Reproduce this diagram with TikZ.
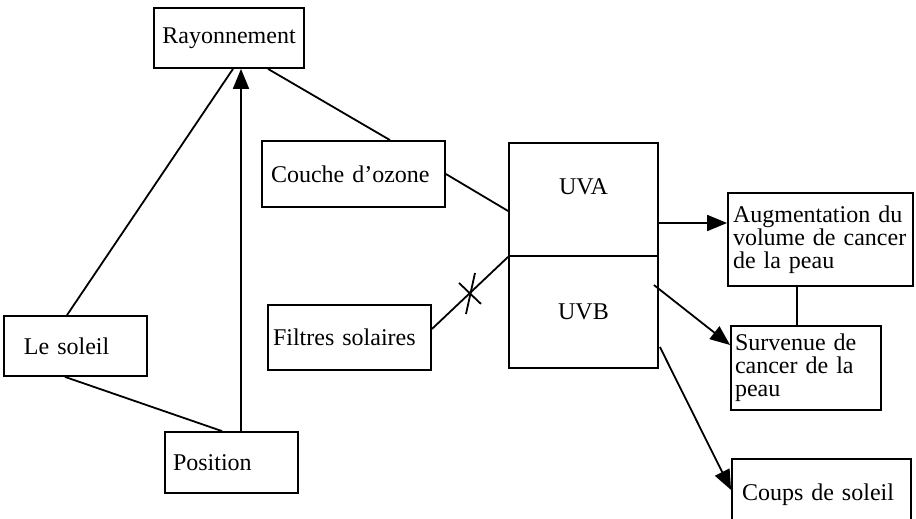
\documentclass[tikz,border=0pt]{standalone}
\usepackage{fontspec}
\setmainfont{Liberation Serif}
\usetikzlibrary{arrows.meta}

\begin{document}
\begin{tikzpicture}[x=0.5pt,y=-0.5pt,line width=0.9pt,>={Triangle[length=10pt,width=8pt]},
    box/.style={draw,rectangle,inner xsep=4pt,inner ysep=0pt,align=left,font=\fontsize{12}{11.5}\selectfont}]
    \useasboundingbox (0,0) rectangle (916,519);

    % left part
    \node[box,minimum width=75pt,minimum height=30pt,align=center] (ray) at (229,38) {Rayonnement};
    \node[box,inner xsep=10pt,text width=51.5pt,minimum height=30pt] (soleil) at (75.5,346) {Le soleil};
    \node[box,text width=58.5pt,minimum height=30.5pt] (pos) at (231.5,462.5) {Position};

    % middle part
    \node[box,inner xsep=4.5pt,text width=82.5pt,minimum height=33pt] (ozone) at (353.5,174) {Couche d’ozone};
    \node[box,inner xsep=2.5pt,text width=76.5pt,minimum height=32.5pt] (filtres) at (349.5,337.5) {Filtres solaires};
    \node[box,minimum width=74.5pt,minimum height=56.5pt,align=center,text depth=13pt] (uva) at (583.5,199.5) {UVA};
    \node[box,minimum width=74.5pt,minimum height=56pt,align=center] (uvb) at (583.5,312) {UVB};

    % right part
    \node[box,inner xsep=2.5pt,text width=87.5pt,minimum height=46.5pt] (aug) at (820.5,239.5) {Augmentation~du\\volume~de~cancer\\de~la~peau};
    \node[box,inner xsep=2pt,text width=71pt,minimum height=42pt] (surv) at (806,368) {Survenue~de\\cancer~de~la\\peau};
    \node[box,inner xsep=5pt,text width=79.5pt,minimum height=35.5pt] (coups) at (821.5,494.5) {Coups de soleil};

    % links on the left
    \draw ([xshift=-4.25pt]soleil.north) -- ([xshift=2pt]ray.south);
    \draw ([xshift=-5.25pt]soleil.south) -- ([xshift=-4.75pt]pos.north);
    \draw[->] ([xshift=4.75pt]pos.north) -- ([xshift=6pt]ray.south);
    \draw ([xshift=19.5pt]ray.south) -- ([xshift=18.25pt]ozone.north);

    % links to the uv box
    \draw (ozone.east) -- ([yshift=-5.75pt]uva.west);
    \draw ([yshift=4.25pt]filtres.east) -- coordinate[pos=.5] (cut) (uva.south west);
    %the cross
    \draw ([shift={(-11,-10)}]cut) -- ([shift={(11,11)}]cut);
    \draw ([shift={(5,-20)}]cut) -- ([shift={(-4,21)}]cut);

    % effects
    \draw[->] ([yshift=-11.75pt]uva.east) -- ([yshift=8.25pt]aug.west);
    \draw[->] ([xshift=-2.5pt,yshift=13.5pt]uvb.east) -- ([yshift=11.5pt]surv.west);
    \draw[->] ([xshift=0.5pt,yshift=-17.5pt]uvb.east) -- ([yshift=2.25pt]coups.west);
    \draw ([xshift=-11.75pt]aug.south) -- ([xshift=-4.5pt]surv.north);
\end{tikzpicture}
\end{document}
